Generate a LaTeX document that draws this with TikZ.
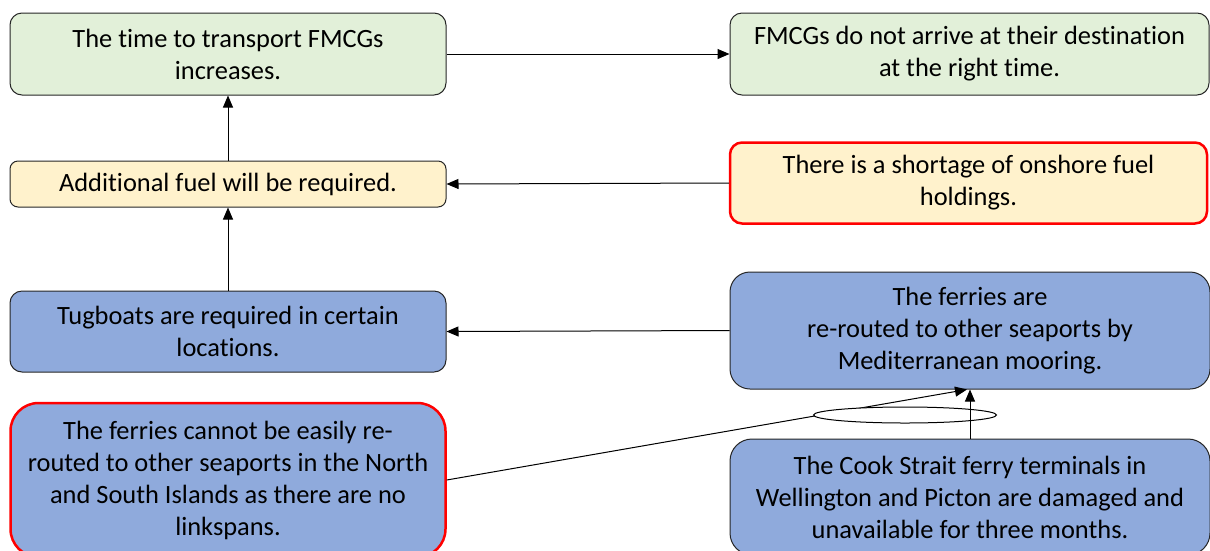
\documentclass[tikz,border=0pt]{standalone}
\usepackage{fontspec}
\setmainfont{Carlito}[Ligatures=NoCommon]
\usetikzlibrary{
  positioning,
  shapes.geometric,
  arrows.meta
}
\definecolor{boxgreen}{HTML}{E2F0D9}
\definecolor{boxyellow}{HTML}{FFF2CC}
\definecolor{boxblue}{HTML}{8FAADC}
\tikzstyle{arrow}     = [line width=1pt,-{Triangle[length=12pt,width=10pt]}]

\begin{document}
\begin{tikzpicture}[x=1pt,y=-1pt,
basenode/.style={rectangle, draw=black!85, line width=1pt, align=center, inner sep=0pt,
  font=\fontsize{26.4}{32}\selectfont, rounded corners=12pt},
greennode/.style={basenode, fill=boxgreen},
yellownode/.style={basenode, fill=boxyellow},
bluenode/.style={basenode, fill=boxblue},
rednode/.style={draw=red, line width=2.5pt},
joinnode/.style={ellipse, draw, line width=1pt, fill=white, minimum width=183pt, minimum height=16pt, inner sep=0pt},
]
\clip (0,0) rectangle (1210,550);

%Nodes
\node[greennode, minimum width=436pt, minimum height=82pt]  (time)   at (228,54)    {The time to transport FMCGs\\increases.};
\node[greennode, minimum width=479pt, minimum height=82pt]  (late)   at (969.5,54)  {FMCGs do not arrive at their destination\\at the right time.};
\node[yellownode, minimum width=436pt, minimum height=46pt, rounded corners=8pt] (fuel) at (228,184) {Additional fuel will be required.};
\node[yellownode, rednode, minimum width=477pt, minimum height=81pt] (short) at (968.5,183) {There is a shortage of onshore fuel\\holdings.};
\node[bluenode, minimum width=436pt, minimum height=81pt]   (tug)    at (228,331.5) {Tugboats are required in certain\\locations.};
\node[bluenode, minimum width=480pt, minimum height=117pt, rounded corners=20pt] (reroute) at (970,330.5) {The ferries are\\re-routed to other seaports by\\Mediterranean mooring.};
\node[bluenode, rednode, minimum width=435pt, minimum height=154pt, rounded corners=28pt] (nolink) at (228,480) {The ferries cannot be easily re-\\routed to other seaports in the North\\and South Islands as there are no\\linkspans.};
\node[bluenode, minimum width=480pt, minimum height=116pt, rounded corners=22pt] (damage) at (970,497) {The Cook Strait ferry terminals in\\Wellington and Picton are damaged and\\unavailable for three months.};

%Lines
\draw[arrow] (time.east) -- (late.west);
\draw[arrow] (fuel.north) -- (time.south);
\draw[arrow] (tug.north) -- (fuel.south);
\draw[arrow] (short.west) -- (fuel.east);
\draw[arrow] (reroute.west) -- (tug.east);
\draw[arrow] (nolink.east) -- ([xshift=-3pt]reroute.south);
\node[joinnode] (join) at (905,415) {};
\draw[arrow] (damage.north) -- (reroute.south);
\end{tikzpicture}
\end{document}
